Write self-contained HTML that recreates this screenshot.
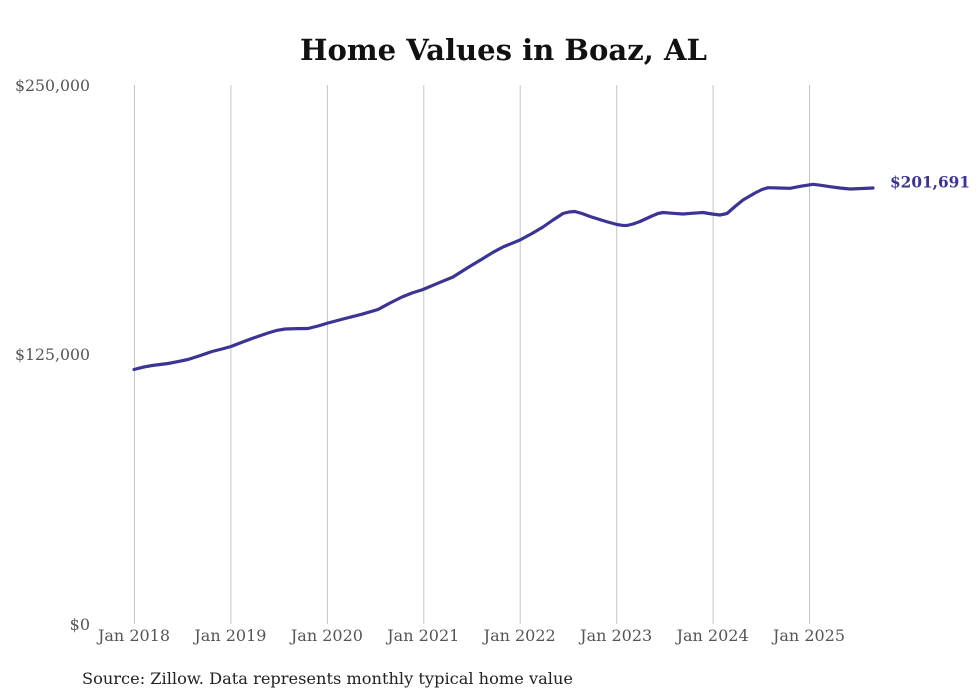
<!DOCTYPE html>
<html>
<head>
<meta charset="utf-8">
<style>
html,body{margin:0;padding:0;background:#fff;}
svg{display:block;}
text{font-family:"DejaVu Serif","Liberation Serif",serif;}
</style>
</head>
<body>
<svg width="980" height="699" viewBox="0 0 980 699" xmlns="http://www.w3.org/2000/svg">
<rect width="980" height="699" fill="#fff"/>
<text x="503.5" y="60" text-anchor="middle" font-size="29" font-weight="bold" fill="#111" textLength="407" lengthAdjust="spacingAndGlyphs">Home Values in Boaz, AL</text>
<g stroke="#c4c4c4" stroke-width="1">
<line x1="134.5" y1="85" x2="134.5" y2="624"/>
<line x1="230.9" y1="85" x2="230.9" y2="624"/>
<line x1="327.4" y1="85" x2="327.4" y2="624"/>
<line x1="423.8" y1="85" x2="423.8" y2="624"/>
<line x1="520.2" y1="85" x2="520.2" y2="624"/>
<line x1="616.7" y1="85" x2="616.7" y2="624"/>
<line x1="713.1" y1="85" x2="713.1" y2="624"/>
<line x1="809.5" y1="85" x2="809.5" y2="624"/>
</g>
<g font-size="16" fill="#555" text-anchor="end">
<text x="90" y="91" textLength="75" lengthAdjust="spacingAndGlyphs">$250,000</text>
<text x="90" y="360" textLength="75" lengthAdjust="spacingAndGlyphs">$125,000</text>
<text x="90" y="630">$0</text>
</g>
<g font-size="16" fill="#555" text-anchor="middle">
<text x="134" y="641">Jan 2018</text>
<text x="230.4" y="641">Jan 2019</text>
<text x="326.9" y="641">Jan 2020</text>
<text x="423.3" y="641">Jan 2021</text>
<text x="519.7" y="641">Jan 2022</text>
<text x="616.2" y="641">Jan 2023</text>
<text x="712.6" y="641">Jan 2024</text>
<text x="809" y="641">Jan 2025</text>
</g>
<polyline fill="none" stroke="#3b3494" stroke-width="3.2" stroke-linejoin="round" stroke-linecap="round"
points="134,369.5 143,367.2 152,365.5 168,363.5 178,361.6 188,359.5 200,355.6 212,351.5 222,349 231,346.5 242,342.2 252,338.5 268,333 276,330.6 285,329 297,328.6 308,328.5 318,326 328,323 345,318.5 362,314.2 378,309.5 390,303 402,297 412,293 423,289.5 438,283.2 453,277 468,267.5 483,258.5 493,252.3 503,247 520,240 532,233.5 543,227 553,220 563,213.5 569,212 575,211.5 582,213.5 590,216.5 606,221.5 617,224.5 622,225.3 627,225.5 633,224 640,221.5 652,216 658,213.5 663,212.5 673,213.3 683,214 693,213.2 703,212.5 712,214 720,215 727,213.5 735,206.5 743,200 755,193 762,189.5 768,187.7 779,188 790,188.3 801,186.2 813,184.3 821,185.3 830,186.7 840,188 850,189 862,188.5 873,188"/>
<text x="890" y="187.5" font-size="16" font-weight="bold" fill="#3b3494" textLength="80" lengthAdjust="spacingAndGlyphs">$201,691</text>
<text x="82" y="684" font-size="16" fill="#222" textLength="491" lengthAdjust="spacingAndGlyphs">Source: Zillow. Data represents monthly typical home value</text>
</svg>
</body>
</html>
